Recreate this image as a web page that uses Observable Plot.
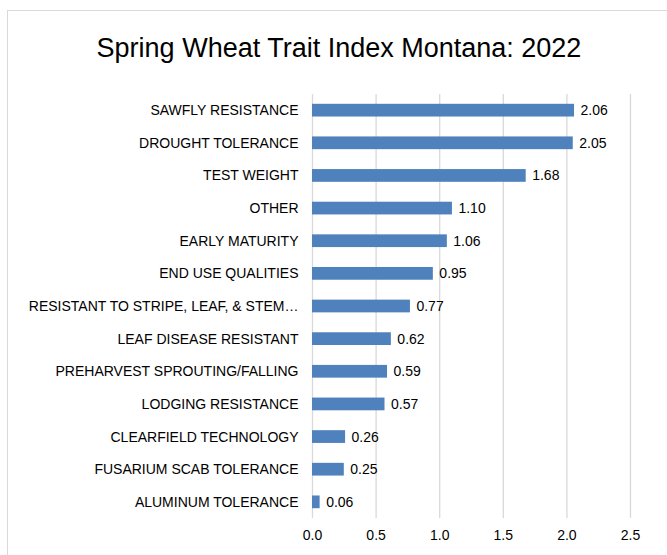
<!DOCTYPE html>
<html>
<head>
<meta charset="utf-8">
<script src="https://cdn.jsdelivr.net/npm/d3@7"></script>
<script src="https://cdn.jsdelivr.net/npm/@observablehq/plot@0.6"></script>
<style>
  html, body { margin: 0; padding: 0; background: #fff; }
  #wrap { position: relative; width: 667px; height: 555px; overflow: hidden; font-family: "Liberation Sans", Arial, sans-serif; }
  #frame { position: absolute; left: 7px; top: 10px; width: 700px; height: 600px; border: 1px solid #d9d9d9; box-sizing: border-box; }
  #title { position: absolute; left: 0; top: 32px; width: 678px; text-align: center; font-size: 27px; line-height: 32px; color: #000; }
  #chart { position: absolute; left: 0; top: 0; }
</style>
</head>
<body>
<div id="wrap">
  <div id="frame"></div>
  <div id="title">Spring Wheat Trait Index Montana: 2022</div>
  <div id="chart"></div>
</div>
<script>
const traits = [
  "SAWFLY RESISTANCE",
  "DROUGHT TOLERANCE",
  "TEST WEIGHT",
  "OTHER",
  "EARLY MATURITY",
  "END USE QUALITIES",
  "RESISTANT TO STRIPE, LEAF, & STEM…",
  "LEAF DISEASE RESISTANT",
  "PREHARVEST SPROUTING/FALLING",
  "LODGING RESISTANCE",
  "CLEARFIELD TECHNOLOGY",
  "FUSARIUM SCAB TOLERANCE",
  "ALUMINUM TOLERANCE"
];
const values = [2.06, 2.05, 1.68, 1.10, 1.06, 0.95, 0.77, 0.62, 0.59, 0.57, 0.26, 0.25, 0.06];
const xTicks = [0, 0.5, 1.0, 1.5, 2.0, 2.5];

const data = traits.map((t, i) => ({trait: t, value: values[i]}));

const chart = Plot.plot({
  width: 667,
  height: 555,
  marginLeft: 312,
  marginRight: 37,
  marginTop: 94,
  marginBottom: 37,
  style: {fontFamily: "'Liberation Sans', Arial, sans-serif", fontSize: "14px", color: "#000", background: "transparent"},
  x: {domain: [0, 2.5], ticks: xTicks, tickFormat: d3.format(".1f"), label: null},
  y: {domain: traits, paddingInner: 0.61, paddingOuter: 0.3, round: false, label: null},
  marks: [
    Plot.gridX(xTicks, {stroke: "#d9d9d9", strokeOpacity: 1, strokeWidth: 1.3}),
    Plot.barX(data, {x: "value", y: "trait", fill: "#4f81bd"}),
    Plot.text(data, {x: "value", y: "trait", text: d => d.value.toFixed(2), textAnchor: "start", dx: 6, fill: "#000", fontSize: 14}),
    Plot.axisX(xTicks, {tickSize: 0, tickPadding: 12, tickFormat: d3.format(".1f"), fontSize: 14, fill: "#000"}),
    Plot.axisY({tickSize: 0, tickPadding: 14, fontSize: 14, fill: "#000", label: null})
  ]
});
document.getElementById("chart").appendChild(chart);
</script>
</body>
</html>
